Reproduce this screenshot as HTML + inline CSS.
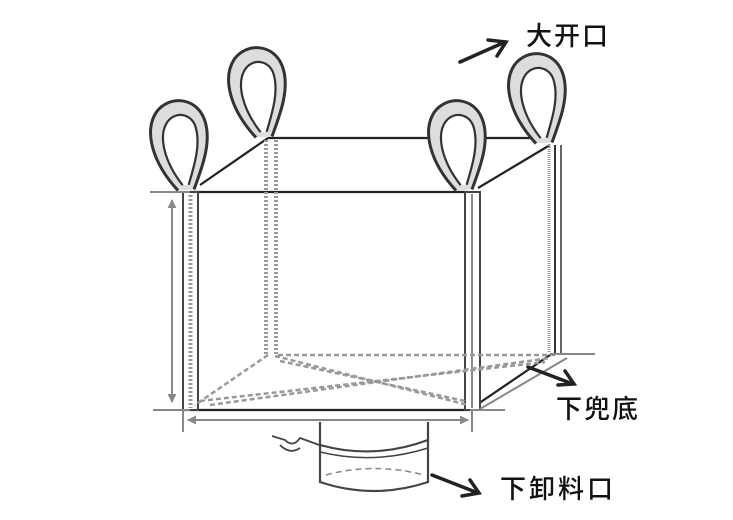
<!DOCTYPE html>
<html><head><meta charset="utf-8"><style>html,body{margin:0;padding:0;background:#fff}svg{display:block}</style></head>
<body>
<svg width="733" height="520" viewBox="0 0 733 520" xmlns="http://www.w3.org/2000/svg">
<defs>
<marker id="ah" markerWidth="9" markerHeight="9" refX="8" refY="4.5" orient="auto" markerUnits="userSpaceOnUse"><path d="M0,0 L9,4.5 L0,9 z" fill="#888"/></marker>
<g id="loop">
<path d="M-8,0 C-32,-30 -38,-62 -24,-80 C-10,-96 16,-92 23,-70 C30,-48 18,-22 8,0" fill="#ddd" stroke="#333" stroke-width="3"/>
<path d="M-3,-5 C-20,-30 -24,-56 -14,-69 C-5,-80 11,-76 14,-62 C18,-44 10,-24 3,-5" fill="#fff" stroke="#333" stroke-width="2.2"/>
</g>
</defs>
<g stroke="#222" stroke-width="2.2" fill="none">
<line x1="190" y1="192" x2="468" y2="192"/>
<line x1="268" y1="138" x2="548" y2="138"/>
<line x1="200" y1="185" x2="268" y2="138"/>
<line x1="478" y1="188" x2="550" y2="145"/>
<line x1="183" y1="410" x2="470" y2="410"/>
<line x1="472" y1="408" x2="550" y2="355"/>
</g>
<g>
<rect x="183" y="192" width="15" height="218" fill="#fff" stroke="#444" stroke-width="2"/>
<line x1="190.5" y1="195" x2="190.5" y2="408" stroke="#999" stroke-width="4" stroke-dasharray="2,2"/>
<line x1="266" y1="140" x2="266" y2="355" stroke="#999" stroke-width="4" stroke-dasharray="2,2"/>
<line x1="276" y1="140" x2="276" y2="355" stroke="#999" stroke-width="4" stroke-dasharray="2,2"/>
<rect x="465" y="192" width="15" height="218" fill="#fff" stroke="#444" stroke-width="2"/>
<line x1="472" y1="194" x2="472" y2="408" stroke="#666" stroke-width="1.5"/>
<line x1="549" y1="145" x2="549" y2="352" stroke="#999" stroke-width="3" stroke-dasharray="1,1"/>
<line x1="555" y1="145" x2="555" y2="355" stroke="#333" stroke-width="2"/>
<line x1="561" y1="145" x2="561" y2="355" stroke="#666" stroke-width="2"/>
</g>
<g stroke="#999" stroke-width="2.5" fill="none" stroke-dasharray="5,3">
<line x1="278" y1="355" x2="555" y2="355"/>
<line x1="268" y1="355" x2="195" y2="405"/>
<line x1="275" y1="356" x2="468" y2="405"/>
<line x1="280" y1="361" x2="465" y2="401"/>
<line x1="210" y1="405" x2="550" y2="358"/>
<line x1="200" y1="401" x2="545" y2="362"/>
</g>
<use href="#loop" transform="translate(186,190) rotate(-4)"/>
<use href="#loop" transform="translate(264,137) rotate(-4)"/>
<use href="#loop" transform="translate(464,190) rotate(-4)"/>
<use href="#loop" transform="translate(544,143) rotate(-4)"/>
<g stroke="#888" stroke-width="2" fill="none">
<line x1="150" y1="192" x2="190" y2="192"/>
<line x1="153" y1="410" x2="190" y2="410"/>
<line x1="172" y1="396" x2="172" y2="200" marker-end="url(#ah)"/>
<line x1="172" y1="210" x2="172" y2="402" marker-end="url(#ah)"/>
<line x1="183" y1="410" x2="183" y2="432"/>
<line x1="472" y1="410" x2="472" y2="432"/>
<line x1="330" y1="420" x2="188" y2="420" marker-end="url(#ah)"/>
<line x1="330" y1="420" x2="468" y2="420" marker-end="url(#ah)"/>
<line x1="550" y1="354" x2="595" y2="354"/>
<line x1="470" y1="410" x2="505" y2="410"/>
<line x1="480" y1="409" x2="567" y2="358"/>
</g>
<g stroke="#444" stroke-width="2.2" fill="#fff">
<path d="M320,422 L320,482 Q374,500 428,482 L428,422"/>
<path d="M320,445 Q374,460 428,440" fill="none"/>
<path d="M320,452 Q374,465 428,448" fill="none" stroke-width="1.5"/>
<path d="M326,475 Q374,462 424,475" fill="none" stroke="#888" stroke-dasharray="6,4" stroke-width="1.5"/>
<path d="M322,446 L300,438 Q293,448 285,440 L272,436 M300,448 Q290,455 280,445" fill="none" stroke-width="1.8"/>
</g>
<g stroke="#222" stroke-width="3.5" fill="none" stroke-linecap="round">
<line x1="460" y1="62" x2="505" y2="42"/>
<path d="M488,40 L506,42 L497,56"/>
<line x1="528" y1="367" x2="573" y2="384"/>
<path d="M565,371 L574,384 L558,385"/>
<line x1="432" y1="475" x2="478" y2="493"/>
<path d="M470,480 L479,493 L462,496"/>
</g>
<g font-family="'Liberation Sans','Noto Sans CJK SC',sans-serif" font-size="26" font-weight="500" fill="#111">
<text x="526" y="45" letter-spacing="2">大开口</text>
<text x="556" y="418" letter-spacing="2">下兜底</text>
<text x="500" y="498" letter-spacing="3">下卸料口</text>
</g>
</svg>
</body></html>
